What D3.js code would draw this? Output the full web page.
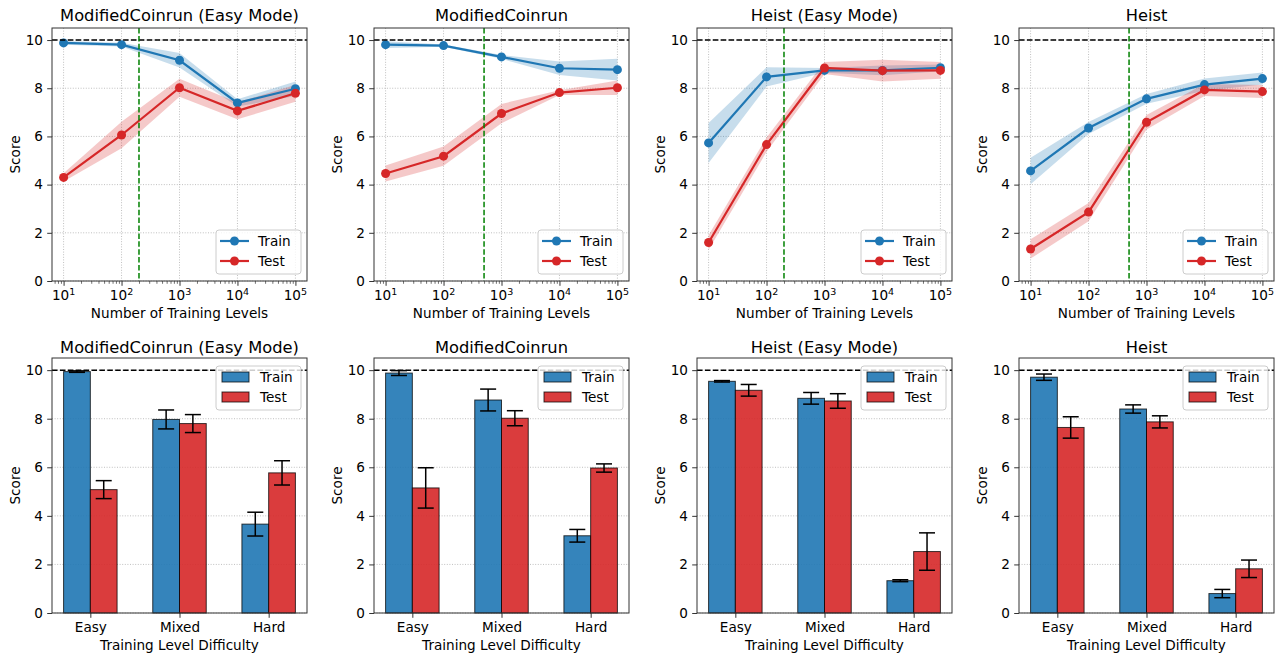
<!DOCTYPE html>
<html><head><meta charset="utf-8">
<script src="https://cdn.jsdelivr.net/npm/d3@7"></script>
<style>body{margin:0;background:#fff} text{font-family:"DejaVu Sans",sans-serif;fill:#000}</style>
</head><body><svg id="c" width="1281" height="653"></svg>
<script>
// ---------- data ----------
const titles = ["ModifiedCoinrun (Easy Mode)", "ModifiedCoinrun", "Heist (Easy Mode)", "Heist"];
const levels = [10, 100, 1000, 10000, 100000];
const levelExp = ["1", "2", "3", "4", "5"];
const trainMean = [[9.88,9.81,9.16,7.39,7.98],[9.81,9.77,9.30,8.83,8.77],[5.73,8.47,8.74,8.74,8.85],[4.57,6.35,7.56,8.15,8.40]];
const trainBand = [[0.08,0.08,0.30,0.15,0.30],[0.14,0.05,0.08,0.28,0.45],[0.83,0.40,0.10,0.20,0.14],[0.55,0.25,0.20,0.25,0.25]];
const testMean  = [[4.30,6.06,8.02,7.06,7.79],[4.46,5.18,6.95,7.82,8.02],[1.60,5.66,8.84,8.73,8.74],[1.33,2.86,6.59,7.93,7.86]];
const testBand  = [[0.17,0.55,0.37,0.35,0.35],[0.33,0.40,0.40,0.10,0.30],[0.30,0.30,0.25,0.45,0.35],[0.40,0.38,0.30,0.25,0.27]];
const cutoff = [200, 500, 200, 500];
const maxScore = 10;
const yTicks = [0, 2, 4, 6, 8, 10];

const difficulty = ["Easy", "Mixed", "Hard"];
const barTrain    = [[9.94,7.97,3.66],[9.88,8.77,3.18],[9.54,8.84,1.33],[9.71,8.40,0.80]];
const barTrainErr = [[0.03,0.39,0.49],[0.10,0.45,0.26],[0.03,0.24,0.04],[0.13,0.17,0.17]];
const barTest     = [[5.08,7.80,5.77],[5.15,8.02,5.97],[9.17,8.73,2.53],[7.64,7.87,1.82]];
const barTestErr  = [[0.37,0.37,0.50],[0.83,0.31,0.17],[0.24,0.30,0.77],[0.44,0.25,0.36]];
const seriesNames = ["Train", "Test"];

// ---------- layout ----------
const svg = d3.select("#c");
const colLeft = [52, 374, 697, 1019];
const W = 255;
const rows = [{top: 28, bot: 281}, {top: 358, bot: 613}];
const BLUE = "#1f77b4", RED = "#d62728";
const FS = 13.6, TFS = 16.3;
const SPINE = "#333";

function yAxis(g, y) {
  const ax = g.append("g").call(d3.axisLeft(y).tickValues(yTicks).tickSize(4.8).tickPadding(4.2).tickFormat(d3.format("d")));
  ax.select(".domain").remove();
  ax.selectAll("line").attr("stroke", SPINE).attr("stroke-width", 1);
  ax.selectAll("text").attr("font-size", FS).attr("font-family", "DejaVu Sans").attr("fill", "#000");
}
function hgrid(g, y) {
  g.append("g").selectAll("line").data(yTicks).join("line")
    .attr("x1", 0).attr("x2", W).attr("y1", d => y(d)).attr("y2", d => y(d))
    .attr("stroke", "#b0b0b0").attr("stroke-width", 0.8).attr("stroke-dasharray", "1,1.6");
}
function frame(g, h) {
  g.append("rect").attr("x", 0).attr("y", 0).attr("width", W).attr("height", h)
    .attr("fill", "none").attr("stroke", SPINE).attr("stroke-width", 1);
}
function titleAndYLabel(g, i, h, baseTitle) {
  g.append("text").attr("x", W / 2).attr("y", baseTitle).attr("text-anchor", "middle").attr("font-size", TFS).text(titles[i]);
  g.append("text").attr("transform", `translate(-32,${h / 2}) rotate(-90)`)
    .attr("text-anchor", "middle").attr("font-size", FS).text("Score");
}

// ---------- top row: line charts ----------
titles.forEach((t, i) => {
  const r = rows[0], h = r.bot - r.top;
  const g = svg.append("g").attr("transform", `translate(${colLeft[i]},${r.top})`);
  const x = d3.scaleLog().domain([Math.pow(10, 0.8), Math.pow(10, 5.2)]).range([0, W]);
  const y = d3.scaleLinear().domain([0, 10.5]).range([h, 0]);
  const cid = "clipT" + i;
  g.append("clipPath").attr("id", cid).append("rect").attr("width", W).attr("height", h);

  hgrid(g, y);
  g.append("g").selectAll("line").data(levels).join("line")
    .attr("x1", d => x(d)).attr("x2", d => x(d)).attr("y1", 0).attr("y2", h)
    .attr("stroke", "#b0b0b0").attr("stroke-width", 0.8).attr("stroke-dasharray", "1,1.6");

  const plot = g.append("g").attr("clip-path", `url(#${cid})`);
  const series = [
    {m: trainMean[i], e: trainBand[i], c: BLUE},
    {m: testMean[i], e: testBand[i], c: RED}
  ];
  series.forEach(s => {
    const pts = levels.map((L, k) => ({L, m: s.m[k], e: s.e[k]}));
    plot.append("path").datum(pts)
      .attr("d", d3.area().x(d => x(d.L)).y0(d => y(d.m - d.e)).y1(d => y(d.m + d.e)))
      .attr("fill", s.c).attr("fill-opacity", 0.25);
  });
  series.forEach(s => {
    const pts = levels.map((L, k) => ({L, m: s.m[k]}));
    plot.append("path").datum(pts)
      .attr("d", d3.line().x(d => x(d.L)).y(d => y(d.m)))
      .attr("fill", "none").attr("stroke", s.c).attr("stroke-width", 2.2);
    plot.append("g").selectAll("circle").data(pts).join("circle")
      .attr("cx", d => x(d.L)).attr("cy", d => y(d.m)).attr("r", 4.5).attr("fill", s.c);
  });
  plot.append("line").attr("x1", 0).attr("x2", W).attr("y1", y(maxScore)).attr("y2", y(maxScore))
    .attr("stroke", "#000").attr("stroke-width", 1.5).attr("stroke-dasharray", "5.5,2.4");
  plot.append("line").attr("x1", x(cutoff[i])).attr("x2", x(cutoff[i])).attr("y1", 0).attr("y2", h)
    .attr("stroke", "#008000").attr("stroke-width", 1.5).attr("stroke-dasharray", "5.5,2.4");

  // axes
  yAxis(g, y);
  const minors = [];
  for (let e = 0; e <= 5; e++) for (let k = 2; k <= 9; k++) {
    const v = k * Math.pow(10, e);
    if (v >= x.domain()[0] && v <= x.domain()[1]) minors.push(v);
  }
  const mx = g.append("g").attr("transform", `translate(0,${h})`)
    .call(d3.axisBottom(x).tickValues(minors).tickSize(2.8).tickFormat(""));
  mx.select(".domain").remove();
  mx.selectAll("line").attr("stroke", SPINE).attr("stroke-width", 0.7);
  const ax = g.append("g").attr("transform", `translate(0,${h})`)
    .call(d3.axisBottom(x).tickValues(levels).tickSize(4.8).tickFormat(""));
  ax.select(".domain").remove();
  ax.selectAll("line").attr("stroke", SPINE).attr("stroke-width", 1);
  levels.forEach((L, k) => {
    const tx = g.append("text").attr("x", x(L)).attr("y", h + 19).attr("text-anchor", "middle").attr("font-size", FS);
    tx.append("tspan").text("10");
    tx.append("tspan").attr("dy", -5.5).attr("font-size", 9.5).text(levelExp[k]);
  });
  g.append("text").attr("x", W / 2).attr("y", h + 37).attr("text-anchor", "middle").attr("font-size", FS).text("Number of Training Levels");
  frame(g, h);
  titleAndYLabel(g, i, h, 21 - r.top);

  // legend (lower right)
  const lw = 85, lh = 44;
  const lg = g.append("g").attr("transform", `translate(${W - 6 - lw},${h - 7 - lh})`);
  lg.append("rect").attr("width", lw).attr("height", lh).attr("rx", 3)
    .attr("fill", "#fff").attr("fill-opacity", 0.8).attr("stroke", "#cccccc").attr("stroke-width", 1);
  seriesNames.forEach((n, k) => {
    const cy = 11 + 20 * k, c = k === 0 ? BLUE : RED;
    lg.append("line").attr("x1", 4).attr("x2", 33).attr("y1", cy).attr("y2", cy).attr("stroke", c).attr("stroke-width", 2.2);
    lg.append("circle").attr("cx", 18.5).attr("cy", cy).attr("r", 4.5).attr("fill", c);
    lg.append("text").attr("x", 42).attr("y", cy).attr("dy", "0.36em").attr("font-size", FS).text(n);
  });
});

// ---------- bottom row: bar charts ----------
titles.forEach((t, i) => {
  const r = rows[1], h = r.bot - r.top;
  const g = svg.append("g").attr("transform", `translate(${colLeft[i]},${r.top})`);
  const x = d3.scaleLinear().domain([-0.43, 2.43]).range([0, W]);
  const y = d3.scaleLinear().domain([0, 10.5]).range([h, 0]);
  hgrid(g, y);
  const bw = 0.3;
  const groups = [
    {m: barTrain[i], e: barTrainErr[i], c: BLUE, off: -bw},
    {m: barTest[i], e: barTestErr[i], c: RED, off: 0}
  ];
  groups.forEach(s => {
    g.append("g").selectAll("rect").data(difficulty.map((d, k) => ({k, m: s.m[k]}))).join("rect")
      .attr("x", d => x(d.k + s.off)).attr("width", d => x(d.k + s.off + bw) - x(d.k + s.off))
      .attr("y", d => y(d.m)).attr("height", d => y(0) - y(d.m))
      .attr("fill", s.c).attr("fill-opacity", 0.9)
      .attr("stroke", "#000").attr("stroke-opacity", 0.75).attr("stroke-width", 1);
  });
  groups.forEach(s => {
    const eg = g.append("g").attr("stroke", "#000").attr("stroke-width", 1.5);
    difficulty.forEach((d, k) => {
      const cx = x(k + s.off + bw / 2);
      const lo = y(s.m[k] - s.e[k]), hi = y(s.m[k] + s.e[k]);
      eg.append("line").attr("x1", cx).attr("x2", cx).attr("y1", lo).attr("y2", hi);
      eg.append("line").attr("x1", cx - 8).attr("x2", cx + 8).attr("y1", lo).attr("y2", lo);
      eg.append("line").attr("x1", cx - 8).attr("x2", cx + 8).attr("y1", hi).attr("y2", hi);
    });
  });
  g.append("line").attr("x1", 0).attr("x2", W).attr("y1", y(maxScore)).attr("y2", y(maxScore))
    .attr("stroke", "#000").attr("stroke-width", 1.5).attr("stroke-dasharray", "5.5,2.4");

  yAxis(g, y);
  const ax = g.append("g").attr("transform", `translate(0,${h})`)
    .call(d3.axisBottom(x).tickValues([0, 1, 2]).tickSize(4.8).tickPadding(4.5).tickFormat(k => difficulty[k]));
  ax.select(".domain").remove();
  ax.selectAll("line").attr("stroke", SPINE).attr("stroke-width", 1);
  ax.selectAll("text").attr("font-size", FS).attr("font-family", "DejaVu Sans").attr("fill", "#000");
  g.append("text").attr("x", W / 2).attr("y", h + 37).attr("text-anchor", "middle").attr("font-size", FS).text("Training Level Difficulty");
  frame(g, h);
  titleAndYLabel(g, i, h, 353 - r.top);

  // legend (upper right)
  const lw = 85, lh = 44;
  const lg = g.append("g").attr("transform", `translate(${W - 6 - lw},8)`);
  lg.append("rect").attr("width", lw).attr("height", lh).attr("rx", 3)
    .attr("fill", "#fff").attr("fill-opacity", 0.8).attr("stroke", "#cccccc").attr("stroke-width", 1);
  seriesNames.forEach((n, k) => {
    const cy = 11 + 20 * k, c = k === 0 ? BLUE : RED;
    lg.append("rect").attr("x", 6).attr("y", cy - 5).attr("width", 27).attr("height", 10)
      .attr("fill", c).attr("fill-opacity", 0.9).attr("stroke", "#000").attr("stroke-opacity", 0.75);
    lg.append("text").attr("x", 44).attr("y", cy).attr("dy", "0.36em").attr("font-size", FS).text(n);
  });
});
</script></body></html>
